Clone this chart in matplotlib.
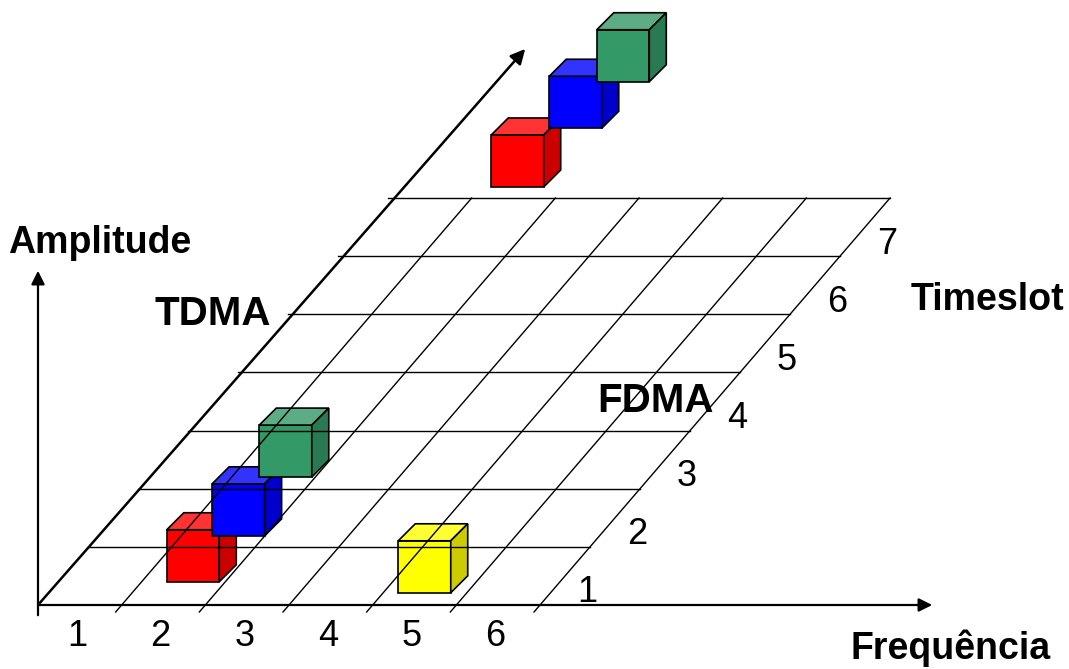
import numpy as np
import matplotlib
matplotlib.use("Agg")
import matplotlib.pyplot as plt
from matplotlib.patches import Polygon
from matplotlib.transforms import Affine2D, offset_copy

plt.rcParams["font.family"] = ["Liberation Sans", "DejaVu Sans"]

# grid layout: 6 frequency columns x 7 timeslot rows
freq_labels = ["1", "2", "3", "4", "5", "6"]
slot_labels = ["1", "2", "3", "4", "5", "6", "7"]

# cubes: front-bottom-left corner in (frequency, timeslot) grid units
cube_f = [1.3, 1.37, 1.33, 4.18, 1.12, 1.21, 1.30]
cube_t = [0.40, 1.19, 2.20, 0.21, 7.19, 8.20, 9.00]
cube_colors = ["red", "blue", "green", "yellow", "red", "blue", "green"]

shades = {
    "red": ("#FF0000", "#FF3333", "#CC0000"),
    "blue": ("#0000FF", "#3333FF", "#0000CC"),
    "green": ("#339966", "#5CAD85", "#297A52"),
    "yellow": ("#FFFF00", "#FFFF33", "#CCCC00"),
}

W, H = 1069, 669
fig = plt.figure(figsize=(W / 100, H / 100), dpi=100)
ax = fig.add_axes([0, 0, 1, 1])
ax.set_xlim(0, W)
ax.set_ylim(H, 0)
ax.axis("off")

# sheared grid -> pixel coordinates
to_px = Affine2D(np.array([[83.67, 50.0, 38.0],
                           [0.0, -58.14, 605.0],
                           [0.0, 0.0, 1.0]]))
grid = to_px + ax.transData

nf, nt = len(freq_labels), len(slot_labels)

# horizontal row lines
for t in range(1, nt + 1):
    ax.plot([0, nf], [t, t], color="black", lw=1.0, transform=grid)
# diagonal column lines
for f in range(1, nf + 1):
    ax.plot([f, f], [-0.12, nt], color="black", lw=1.0, transform=grid)

# axes
ax.annotate("", xy=(935, 605), xytext=(36, 605),
            arrowprops=dict(arrowstyle="-|>", color="black", lw=1.6, mutation_scale=20))
ax.annotate("", xy=(38, 268), xytext=(38, 618),
            arrowprops=dict(arrowstyle="-|>", color="black", lw=1.6, mutation_scale=20))
tip = to_px.transform((0.108, 9.6))
ax.annotate("", xy=tip, xytext=(38, 605),
            arrowprops=dict(arrowstyle="-|>", color="black", lw=1.8, mutation_scale=22))

# cubes
w, h, d = 52.5, 52.0, 17.0
for f, t, c in zip(cube_f, cube_t, cube_colors):
    x, y = to_px.transform((f, t))
    front, top, side = shades[c]
    ax.add_patch(Polygon([(x, y), (x + w, y), (x + w, y - h), (x, y - h)],
                         closed=True, fc=front, ec="black", lw=1.2))
    ax.add_patch(Polygon([(x, y - h), (x + w, y - h), (x + w + d, y - h - d), (x + d, y - h - d)],
                         closed=True, fc=top, ec="black", lw=1.2))
    ax.add_patch(Polygon([(x + w, y), (x + w + d, y - d), (x + w + d, y - h - d), (x + w, y - h)],
                         closed=True, fc=side, ec="black", lw=1.2))

# tick labels
bottom_tr = offset_copy(grid, fig=fig, x=-3, y=-32, units="dots")
for i, lab in enumerate(freq_labels):
    ax.text(i + 0.5, 0, lab, transform=bottom_tr, ha="center", va="center", fontsize=26)
right_tr = offset_copy(grid, fig=fig, x=22, y=-17, units="dots")
for i, lab in enumerate(slot_labels):
    ax.text(nf, i + 0.5, lab, transform=right_tr, ha="center", va="center", fontsize=26)

# titles
ax.text(100, 243, "Amplitude", ha="center", va="center", fontsize=27, fontweight="bold")
ax.text(213, 314, "TDMA", ha="center", va="center", fontsize=29, fontweight="bold")
ax.text(656, 401, "FDMA", ha="center", va="center", fontsize=29, fontweight="bold")
ax.text(987, 300, "Timeslot", ha="center", va="center", fontsize=27, fontweight="bold")
ax.text(951, 648, "Frequência", ha="center", va="center", fontsize=27, fontweight="bold")

fig.savefig("out.png", dpi=100, facecolor="white")
